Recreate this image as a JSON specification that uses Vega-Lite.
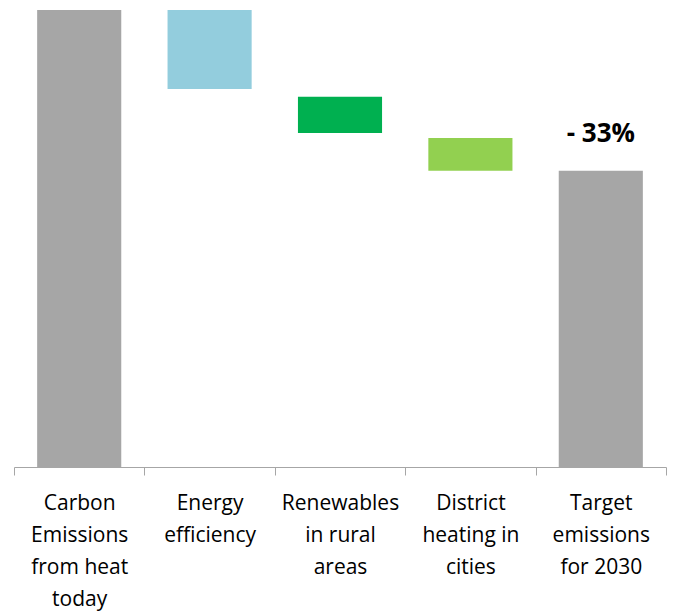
{
  "$schema": "https://vega.github.io/schema/vega-lite/v6.json",
  "width": 652,
  "height": 457,
  "padding": {"left": 13, "top": 10, "right": 8, "bottom": 5},
  "config": {"view": {"stroke": null}},
  "data": {
    "values": [
      {"cat": "Carbon|Emissions|from heat|today", "start": 0, "end": 100},
      {"cat": "Energy|efficiency", "start": 100, "end": 82.7},
      {"cat": "Renewables|in rural|areas", "start": 81.0, "end": 73.1},
      {"cat": "District|heating in|cities", "start": 72.0, "end": 64.8},
      {"cat": "Target|emissions|for 2030", "start": 0, "end": 64.8, "note": "- 33%"}
    ]
  },
  "layer": [
    {
      "mark": {"type": "bar", "width": {"band": 0.645}},
      "encoding": {
        "x": {
          "field": "cat", "type": "nominal", "sort": null,
          "scale": {"paddingInner": 0, "paddingOuter": 0},
          "axis": {
            "title": null, "labelAngle": 0,
            "labelExpr": "split(datum.label, '|')",
            "labelFont": "Open Sans", "labelFontSize": 21, "labelColor": "#000000",
            "labelLineHeight": 32, "labelPadding": 17, "labelLimit": 0,
            "tickBand": "extent", "tickSize": 8, "tickColor": "#a6a6a6",
            "domainColor": "#a6a6a6", "labelBaseline": "top"
          }
        },
        "y": {"field": "start", "type": "quantitative", "scale": {"domain": [0, 100]}, "axis": null},
        "y2": {"field": "end"},
        "color": {
          "field": "cat", "type": "nominal",
          "scale": {
            "domain": ["Carbon|Emissions|from heat|today", "Energy|efficiency", "Renewables|in rural|areas", "District|heating in|cities", "Target|emissions|for 2030"],
            "range": ["#a6a6a6", "#93cddd", "#00b050", "#92d050", "#a6a6a6"]
          },
          "legend": null
        }
      }
    },
    {
      "transform": [{"filter": "datum.note"}],
      "mark": {"type": "text", "font": "Open Sans", "fontWeight": "bold", "fontSize": 26, "baseline": "bottom", "dy": -24, "color": "#000000"},
      "encoding": {
        "x": {"field": "cat", "type": "nominal", "sort": null},
        "y": {"field": "end", "type": "quantitative"},
        "text": {"field": "note"}
      }
    }
  ]
}
